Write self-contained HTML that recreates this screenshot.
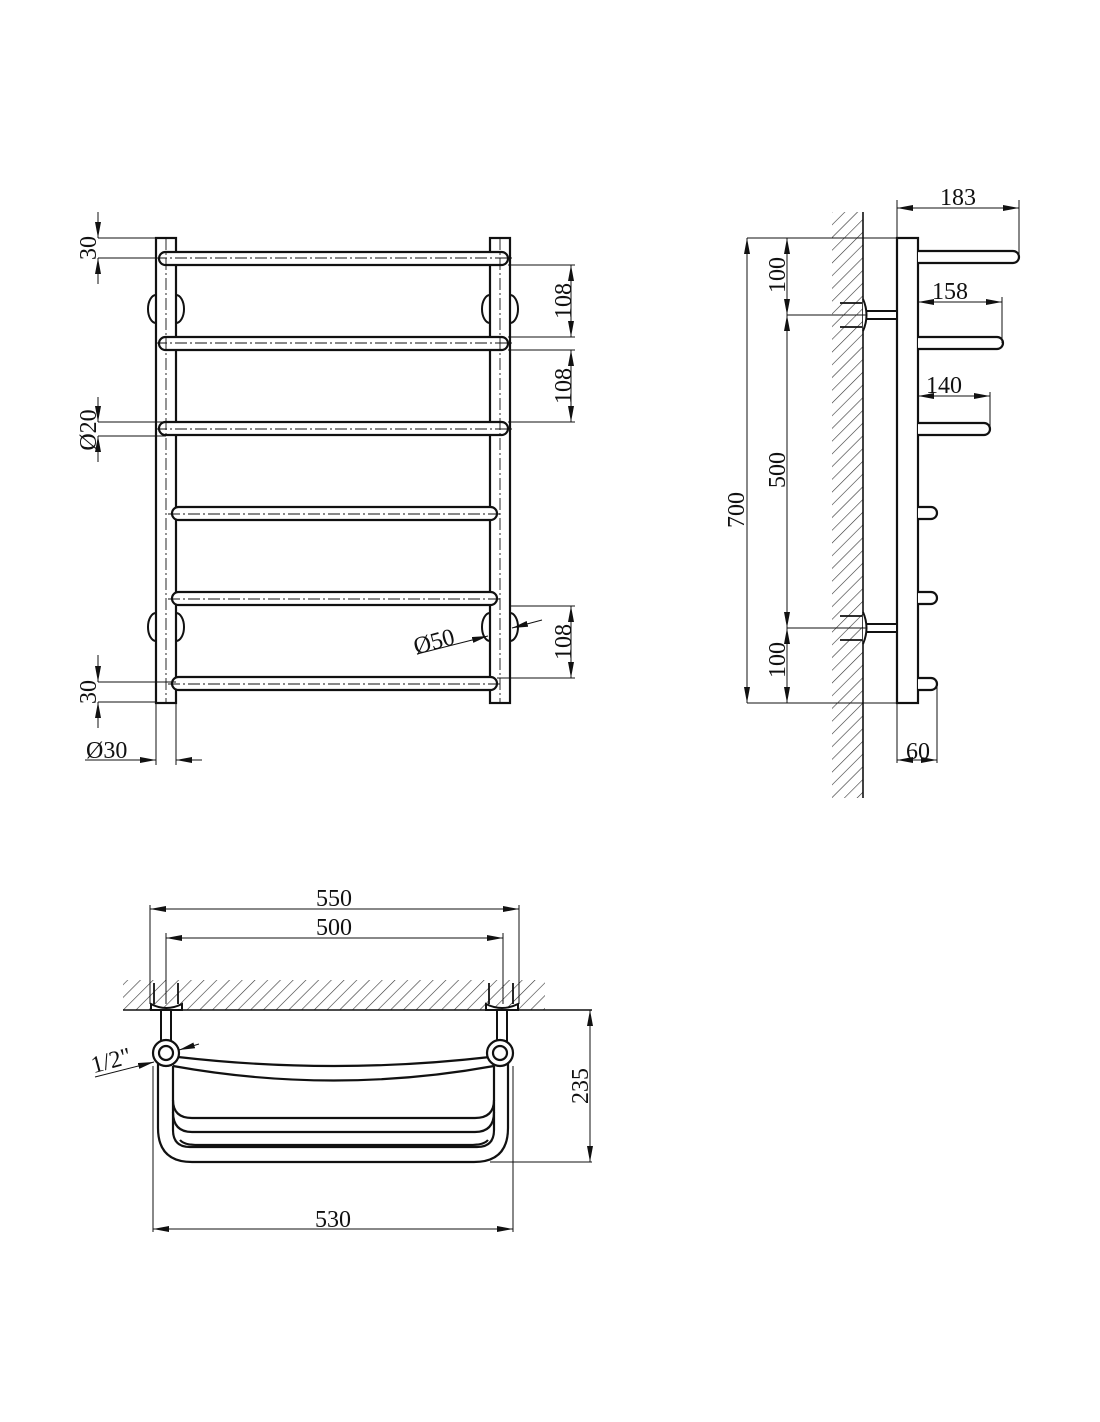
<!DOCTYPE html>
<html><head><meta charset="utf-8"><style>
html,body{margin:0;padding:0;background:#fff;}
svg{display:block;}
text{font-family:"Liberation Serif",serif;font-size:24px;fill:#111;}
</style></head><body>
<svg width="1100" height="1422" viewBox="0 0 1100 1422" xmlns="http://www.w3.org/2000/svg">
<defs>
<marker id="a" viewBox="0 0 16 6" refX="16" refY="3" markerWidth="16" markerHeight="6" markerUnits="userSpaceOnUse" orient="auto">
<path d="M0,0 L16,3 L0,6 Z" fill="#111"/></marker>
<pattern id="h" width="9" height="9" patternUnits="userSpaceOnUse" patternTransform="rotate(45)">
<line x1="0" y1="0" x2="0" y2="9" stroke="#333" stroke-width="1.2"/></pattern>
</defs>
<g stroke="#111" fill="none">
<!-- ============ FRONT VIEW ============ -->
<rect x="156" y="238" width="20" height="465" stroke-width="2.2" fill="#fff"/>
<rect x="490" y="238" width="20" height="465" stroke-width="2.2" fill="#fff"/>
<g stroke-width="2">
<path d="M156,295 A8,14 0 0 0 156,323"/><path d="M176,295 A8,14 0 0 1 176,323"/>
<path d="M490,295 A8,14 0 0 0 490,323"/><path d="M510,295 A8,14 0 0 1 510,323"/>
<path d="M156,613 A8,14 0 0 0 156,641"/><path d="M176,613 A8,14 0 0 1 176,641"/>
<path d="M490,613 A8,14 0 0 0 490,641"/><path d="M510,613 A8,14 0 0 1 510,641"/>
</g>
<g stroke-width="2.2" fill="#fff">
<rect x="159" y="252" width="349" height="13" rx="6.5"/>
<rect x="159" y="337" width="349" height="13" rx="6.5"/>
<rect x="159" y="422" width="349" height="13" rx="6.5"/>
<rect x="172" y="507" width="325" height="13" rx="6.5"/>
<rect x="172" y="592" width="325" height="13" rx="6.5"/>
<rect x="172" y="677" width="325" height="13" rx="6.5"/>
</g>
<g stroke-width="0.9" stroke-dasharray="12,3,2,3">
<line x1="166" y1="238" x2="166" y2="703"/><line x1="500" y1="238" x2="500" y2="703"/>
<line x1="155" y1="258" x2="512" y2="258"/><line x1="155" y1="343" x2="512" y2="343"/>
<line x1="155" y1="429" x2="512" y2="429"/><line x1="168" y1="514" x2="500" y2="514"/>
<line x1="168" y1="599" x2="500" y2="599"/><line x1="168" y1="684" x2="500" y2="684"/>
</g>
<g stroke-width="1">
<line x1="98" y1="238" x2="156" y2="238"/><line x1="98" y1="258" x2="160" y2="258"/>
<line x1="98" y1="212" x2="98" y2="238" marker-end="url(#a)"/><line x1="98" y1="284" x2="98" y2="258" marker-end="url(#a)"/>
<line x1="98" y1="422" x2="166" y2="422"/><line x1="98" y1="436" x2="166" y2="436"/>
<line x1="98" y1="397" x2="98" y2="422" marker-end="url(#a)"/><line x1="98" y1="462" x2="98" y2="436" marker-end="url(#a)"/>
<line x1="98" y1="682" x2="176" y2="682"/><line x1="98" y1="702" x2="156" y2="702"/>
<line x1="98" y1="655" x2="98" y2="682" marker-end="url(#a)"/><line x1="98" y1="728" x2="98" y2="702" marker-end="url(#a)"/>
<line x1="156" y1="703" x2="156" y2="765"/><line x1="176" y1="703" x2="176" y2="765"/>
<line x1="85" y1="760" x2="156" y2="760" marker-end="url(#a)"/><line x1="202" y1="760" x2="176" y2="760" marker-end="url(#a)"/>
</g>
<g stroke-width="1">
<line x1="508" y1="265" x2="575" y2="265"/><line x1="508" y1="337" x2="575" y2="337"/>
<line x1="508" y1="350" x2="575" y2="350"/><line x1="508" y1="422" x2="575" y2="422"/>
<line x1="510" y1="606" x2="575" y2="606"/><line x1="497" y1="678" x2="575" y2="678"/>
<line x1="571" y1="301" x2="571" y2="265" marker-end="url(#a)"/><line x1="571" y1="301" x2="571" y2="337" marker-end="url(#a)"/>
<line x1="571" y1="386" x2="571" y2="350" marker-end="url(#a)"/><line x1="571" y1="386" x2="571" y2="422" marker-end="url(#a)"/>
<line x1="571" y1="642" x2="571" y2="606" marker-end="url(#a)"/><line x1="571" y1="642" x2="571" y2="678" marker-end="url(#a)"/>
<line x1="417" y1="654" x2="488" y2="636" marker-end="url(#a)"/><line x1="542" y1="620" x2="512" y2="628" marker-end="url(#a)"/>
</g>
</g>
<g>
<text transform="translate(96,248) rotate(-90)" text-anchor="middle">30</text>
<text transform="translate(96,430) rotate(-90)" text-anchor="middle">Ø20</text>
<text transform="translate(96,692) rotate(-90)" text-anchor="middle">30</text>
<text x="86" y="758">Ø30</text>
<text transform="translate(571,301) rotate(-90)" text-anchor="middle">108</text>
<text transform="translate(571,386) rotate(-90)" text-anchor="middle">108</text>
<text transform="translate(571,642) rotate(-90)" text-anchor="middle">108</text>
<text transform="translate(436,649) rotate(-15)" text-anchor="middle">Ø50</text>
</g>

<!-- ============ SIDE VIEW ============ -->
<rect x="832" y="212" width="31" height="586" fill="url(#h)"/>
<g stroke="#111" fill="none">
<line x1="863" y1="212" x2="863" y2="798" stroke-width="1.6"/>
<rect x="897" y="238" width="21" height="465" stroke-width="2.2" fill="#fff"/>
<g stroke-width="2.2" fill="#fff">
<path d="M918,251 H1013 A6,6 0 0 1 1013,263 H918"/>
<path d="M918,337 H997 A6,6 0 0 1 997,349 H918"/>
<path d="M918,423 H984 A6,6 0 0 1 984,435 H918"/>
<path d="M918,507 H931 A6,6 0 0 1 931,519 H918"/>
<path d="M918,592 H931 A6,6 0 0 1 931,604 H918"/>
<path d="M918,678 H931 A6,6 0 0 1 931,690 H918"/>
</g>
<g stroke-width="2" fill="#fff">
<rect x="866" y="311" width="31" height="8"/>
<path d="M863,299 Q870,315 863,331"/>
<rect x="866" y="624" width="31" height="8"/>
<path d="M863,612 Q870,628 863,644"/>
</g>
<g stroke-width="1.8">
<line x1="840" y1="303" x2="862" y2="303"/><line x1="840" y1="327" x2="862" y2="327"/>
<line x1="840" y1="616" x2="862" y2="616"/><line x1="840" y1="640" x2="862" y2="640"/>
</g>
<g stroke-width="1">
<line x1="787" y1="315" x2="866" y2="315"/><line x1="787" y1="628" x2="866" y2="628"/>
<line x1="747" y1="238" x2="897" y2="238"/><line x1="747" y1="703" x2="897" y2="703"/>
<line x1="747" y1="470" x2="747" y2="238" marker-end="url(#a)"/><line x1="747" y1="470" x2="747" y2="703" marker-end="url(#a)"/>
<line x1="787" y1="276" x2="787" y2="238" marker-end="url(#a)"/><line x1="787" y1="276" x2="787" y2="315" marker-end="url(#a)"/>
<line x1="787" y1="470" x2="787" y2="315" marker-end="url(#a)"/><line x1="787" y1="470" x2="787" y2="628" marker-end="url(#a)"/>
<line x1="787" y1="665" x2="787" y2="628" marker-end="url(#a)"/><line x1="787" y1="665" x2="787" y2="703" marker-end="url(#a)"/>
<line x1="897" y1="200" x2="897" y2="238"/><line x1="1019" y1="200" x2="1019" y2="257"/>
<line x1="958" y1="208" x2="897" y2="208" marker-end="url(#a)"/><line x1="958" y1="208" x2="1019" y2="208" marker-end="url(#a)"/>
<line x1="1002" y1="297" x2="1002" y2="343"/>
<line x1="950" y1="302" x2="918" y2="302" marker-end="url(#a)"/><line x1="950" y1="302" x2="1002" y2="302" marker-end="url(#a)"/>
<line x1="990" y1="392" x2="990" y2="429"/>
<line x1="944" y1="396" x2="918" y2="396" marker-end="url(#a)"/><line x1="944" y1="396" x2="990" y2="396" marker-end="url(#a)"/>
<line x1="897" y1="703" x2="897" y2="763"/><line x1="937" y1="684" x2="937" y2="763"/>
<line x1="917" y1="760" x2="897" y2="760" marker-end="url(#a)"/><line x1="917" y1="760" x2="937" y2="760" marker-end="url(#a)"/>
</g>
</g>
<g>
<text x="958" y="205" text-anchor="middle">183</text>
<text x="950" y="299" text-anchor="middle">158</text>
<text x="944" y="393" text-anchor="middle">140</text>
<text x="918" y="759" text-anchor="middle">60</text>
<text transform="translate(744,510) rotate(-90)" text-anchor="middle">700</text>
<text transform="translate(785,275) rotate(-90)" text-anchor="middle">100</text>
<text transform="translate(785,470) rotate(-90)" text-anchor="middle">500</text>
<text transform="translate(785,660) rotate(-90)" text-anchor="middle">100</text>
</g>

<!-- ============ TOP VIEW ============ -->
<rect x="123" y="980" width="422" height="30" fill="url(#h)"/>
<g stroke="#111" fill="none">
<line x1="123" y1="1010" x2="592" y2="1010" stroke-width="1.6"/>
<g stroke-width="2" fill="#fff">
<path d="M151,1004 Q166,1012 182,1004 L182,1010 L151,1010 Z"/>
<path d="M486,1004 Q502,1012 518,1004 L518,1010 L486,1010 Z"/>
<rect x="161" y="1010" width="10" height="31"/>
<rect x="497" y="1010" width="10" height="31"/>
</g>
<g stroke-width="1.8">
<line x1="154" y1="983" x2="154" y2="1004"/><line x1="178" y1="983" x2="178" y2="1004"/>
<line x1="489" y1="983" x2="489" y2="1004"/><line x1="513" y1="983" x2="513" y2="1004"/>
</g>
<g stroke-width="2.2">
<path d="M158,1060 V1128 Q158,1162 192,1162 H474 Q508,1162 508,1128 V1060"/>
<path d="M173,1066 V1130 Q173,1147 190,1147 H477 Q494,1147 494,1130 V1066"/>
<path d="M178,1057 Q334,1075 490,1057"/>
<path d="M173,1066 Q334,1095 494,1066"/>
<path d="M173,1100 Q173,1118 192,1118 H475 Q494,1118 494,1100"/>
<path d="M173,1112 Q173,1132 192,1132 H475 Q494,1132 494,1112"/>
<path d="M180,1140 Q184,1145 198,1145 H470 Q484,1145 488,1140"/>
</g>
<g stroke-width="2.2" fill="#fff">
<circle cx="166" cy="1053" r="13"/><circle cx="166" cy="1053" r="7"/>
<circle cx="500" cy="1053" r="13"/><circle cx="500" cy="1053" r="7"/>
</g>
<g stroke-width="1">
<line x1="150" y1="905" x2="150" y2="1004"/><line x1="519" y1="905" x2="519" y2="1004"/>
<line x1="166" y1="933" x2="166" y2="1004"/><line x1="503" y1="933" x2="503" y2="1004"/>
<line x1="334" y1="909" x2="150" y2="909" marker-end="url(#a)"/><line x1="334" y1="909" x2="519" y2="909" marker-end="url(#a)"/>
<line x1="334" y1="938" x2="166" y2="938" marker-end="url(#a)"/><line x1="334" y1="938" x2="503" y2="938" marker-end="url(#a)"/>
<line x1="153" y1="1066" x2="153" y2="1232"/><line x1="513" y1="1066" x2="513" y2="1232"/>
<line x1="333" y1="1229" x2="153" y2="1229" marker-end="url(#a)"/><line x1="333" y1="1229" x2="513" y2="1229" marker-end="url(#a)"/>
<line x1="490" y1="1162" x2="592" y2="1162"/>
<line x1="590" y1="1086" x2="590" y2="1010" marker-end="url(#a)"/><line x1="590" y1="1086" x2="590" y2="1162" marker-end="url(#a)"/>
<line x1="95" y1="1077" x2="154" y2="1062" marker-end="url(#a)"/><line x1="199" y1="1044" x2="179" y2="1050" marker-end="url(#a)"/>
</g>
</g>
<g>
<text x="334" y="906" text-anchor="middle">550</text>
<text x="334" y="935" text-anchor="middle">500</text>
<text x="333" y="1227" text-anchor="middle">530</text>
<text transform="translate(588,1086) rotate(-90)" text-anchor="middle">235</text>
<text transform="translate(113,1068) rotate(-15)" text-anchor="middle">1/2"</text>
</g>
</svg>
</body></html>
